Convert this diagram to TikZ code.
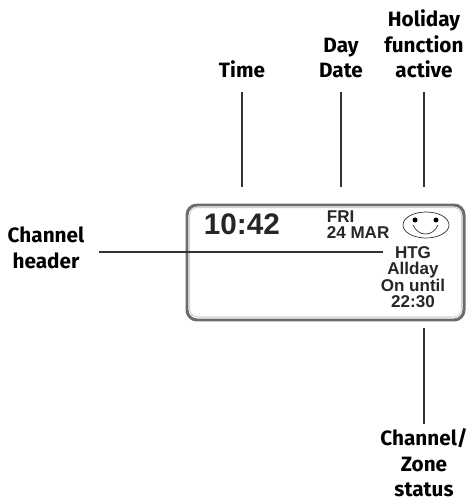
\documentclass[tikz,border=0pt]{standalone}
\usepackage{xcolor}
\usepackage{fontspec}
\setmainfont{Liberation Sans}
\newfontfamily\labelfont{Fira Sans}
\usepackage{tikz}
\usetikzlibrary{shapes, positioning, calc}
\definecolor{linegray}{rgb}{0.2,0.2,0.2}
\definecolor{screentext}{rgb}{0.15,0.15,0.15}
\tikzset{
  callout/.style={font=\labelfont\bfseries\fontsize{11.8}{14.7}\selectfont, align=center, inner sep=0pt},
  leader/.style={linegray, line width=0.6pt},
  screen/.style={font=\bfseries\fontsize{9.7}{9}\selectfont, text=screentext, inner sep=0pt},
}

\begin{document}
\begin{tikzpicture}
      \useasboundingbox (0,0) rectangle (9.42,10.02);

      % display
      \draw [gray!85!black, line width=1.7pt, rounded corners=0.2cm] (3.74,3.62) rectangle (9.28,5.92);
      \draw [gray!35, line width=0.6pt, rounded corners=0.16cm] (3.79,3.68) rectangle (9.23,5.87);

      \node[screen, font=\bfseries\fontsize{16.9}{17}\selectfont, anchor=west] (clock) at (4.07,5.54) {10:42};
      \node[screen, anchor=west, align=left] (daydate) at (6.53,5.52) {FRI\\24 MAR};
      \node[screen, align=center] (status) at (8.26,4.48) {HTG\\Allday\\On until\\22:30};

      % smiley
      \node[draw=linegray, ellipse, line width=0.4pt, minimum width=0.92cm, minimum height=0.52cm, inner sep=0pt] (face) at (8.52,5.52) {};
      \fill [black] (8.30,5.62) circle (0.05);
      \fill [black] (8.72,5.62) circle (0.05);
      \draw [linegray, line width=0.4pt] (8.26,5.52) .. controls (8.36,5.28) and (8.66,5.28) .. (8.76,5.52);

      % labels above
      \coordinate (ptTime) at (4.84,6.28);
      \coordinate (ptDate) at (6.82,6.28);
      \coordinate (ptHoliday) at (8.48,6.28);
      \node[callout, anchor=base] (lblTime) at (4.84,8.46) {Time};
      \node[callout, anchor=base] (lblDate) at (6.82,8.46) {Day\\Date};
      \node[callout, anchor=base] (lblHoliday) at (8.48,8.46) {Holiday\\function\\active};
      \coordinate (topTime) at (4.84,8.18);
      \coordinate (topDate) at (6.82,8.18);
      \coordinate (topHoliday) at (8.48,8.18);
      \draw [leader] (topTime) -- (ptTime);
      \draw [leader] (topDate) -- (ptDate);
      \draw [leader] (topHoliday) -- (ptHoliday);

      % label at left
      \node[callout] (lblHeader) at (0.92,5.06) {Channel\\header};
      \coordinate (startHeader) at (1.98,4.98);
      \coordinate (ptHeader) at (7.66,4.98);
      \draw [leader] (startHeader) -- (ptHeader);

      % label below
      \coordinate (ptZone) at (8.48,3.46);
      \coordinate (endZone) at (8.48,1.54);
      \draw [leader] (ptZone) -- (endZone);
      \node[callout, anchor=north] (lblZone) at (8.48,1.46) {Channel/\\Zone\\status};
\end{tikzpicture}
\end{document}
